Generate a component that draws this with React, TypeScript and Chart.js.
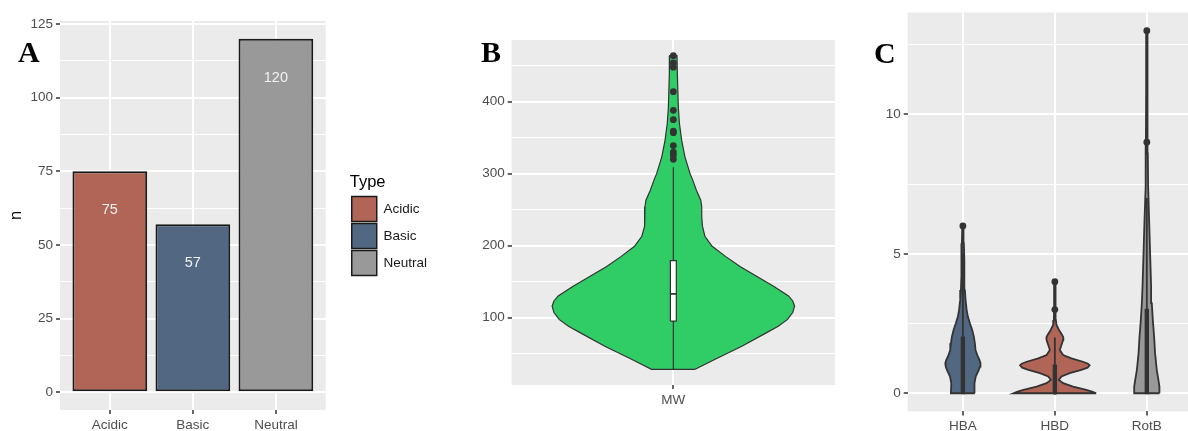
import React, { useEffect, useRef } from 'react';
import { Chart, registerables } from 'chart.js';

Chart.register(...registerables);

const FONT = "'Liberation Sans', Arial, Helvetica, sans-serif";
const PANEL_BG = '#EBEBEB';
const TICK_TEXT = '#4D4D4D';
const INK = '#333333';

// ---------- Panel A: counts by type ----------
const typeLabels = ['Acidic', 'Basic', 'Neutral'];
const typeCounts = [75, 57, 120];
const typeColors = ['#B06557', '#526882', '#999999'];
const countMajorTicks = [0, 25, 50, 75, 100, 125];
const countMinorTicks = [12.5, 37.5, 62.5, 87.5, 112.5];

// ---------- Panel B: MW violin ----------
const mwLabels = ['MW'];
const mwDensityY = [28, 42, 60, 79, 88, 97, 107, 116, 123, 130, 143, 157, 171, 185, 199, 213, 227, 240, 254, 263, 277, 291, 300, 323, 346, 370, 393, 439, 464];
const mwDensityW = [0.18, 0.345, 0.565, 0.77, 0.865, 0.94, 0.985, 1.0, 0.985, 0.95, 0.83, 0.69, 0.55, 0.43, 0.32, 0.26, 0.24, 0.234, 0.234, 0.226, 0.19, 0.16, 0.138, 0.096, 0.069, 0.05, 0.041, 0.033, 0.03];
const mwQuartiles = [95, 133, 179];
const mwWhiskers = [28, 309];
const mwOutliers = [464, 454, 448, 414, 388, 375, 359, 357, 339, 330, 326, 320];
const mwMajorTicks = [100, 200, 300, 400];
const mwMinorTicks = [50, 150, 250, 350, 450];

// ---------- Panel C: HBA / HBD / RotB violins ----------
const descLabels = ['HBA', 'HBD', 'RotB'];
const descColors = ['#526882', '#B06557', '#999999'];
const hbaDensityY = [0, 0.36, 0.6, 0.84, 0.96, 1.08, 1.2, 1.32, 1.55, 1.79, 2.03, 2.27, 2.51, 2.75, 3.0, 3.35, 3.7, 4.2, 4.78, 5.38, 6];
const hbaDensityW = [0.29, 0.28, 0.31, 0.385, 0.415, 0.425, 0.4, 0.36, 0.305, 0.29, 0.265, 0.225, 0.17, 0.12, 0.09, 0.065, 0.048, 0.04, 0.031, 0.024, 0.015];
const hbdDensityY = [0, 0.06, 0.12, 0.24, 0.36, 0.48, 0.6, 0.72, 0.84, 0.92, 1.0, 1.06, 1.13, 1.25, 1.37, 1.55, 1.73, 1.91, 2.0, 2.09, 2.27, 2.45, 2.63, 3, 3.5, 4];
const hbdDensityW = [1.0, 0.9, 0.76, 0.44, 0.2, 0.096, 0.16, 0.36, 0.64, 0.79, 0.84, 0.8, 0.68, 0.4, 0.2, 0.12, 0.16, 0.2, 0.205, 0.176, 0.1, 0.04, 0.024, 0.02, 0.017, 0.015];
const rotbDensityY = [0, 0.24, 0.48, 0.84, 1.43, 2.03, 2.63, 3.23, 3.82, 5.0, 6.2, 7.4, 8.6, 9, 11, 13];
const rotbDensityW = [0.305, 0.305, 0.28, 0.24, 0.2, 0.176, 0.145, 0.12, 0.104, 0.08, 0.056, 0.032, 0.024, 0.022, 0.016, 0.012];
const descQ1 = [0, 0, 0];
const descMedian = [1, 0, 1];
const descQ3 = [2, 1, 3];
const descWhiskerLow = [0, 0, 0];
const descWhiskerHigh = [5, 2, 7];
const hbaOutliers = [6];
const hbdOutliers = [3, 4];
const rotbOutliers = [9, 13];
const descMajorTicks = [0, 5, 10];
const descMinorTicks = [2.5, 7.5, 12.5];

// ---------- helpers ----------
const panelBg = {
  id: 'panelBg',
  beforeDraw(chart: any) {
    const { ctx, chartArea: a } = chart;
    ctx.save();
    ctx.fillStyle = PANEL_BG;
    ctx.fillRect(a.left, a.top, a.right - a.left, a.bottom - a.top);
    ctx.restore();
  },
};

const barLabels = {
  id: 'barLabels',
  afterDatasetsDraw(chart: any) {
    const meta = chart.getDatasetMeta(0);
    const ctx = chart.ctx;
    ctx.save();
    ctx.fillStyle = '#F2F2F2';
    ctx.font = `14.5px ${FONT}`;
    ctx.textAlign = 'center';
    ctx.textBaseline = 'middle';
    meta.data.forEach((bar: any, i: number) => {
      ctx.fillText(String(typeCounts[i]), bar.x, bar.y + 39);
    });
    ctx.restore();
  },
};

function expand(lo: number, hi: number) {
  const d = (hi - lo) * 0.05;
  return [lo - d, hi + d];
}

function yAxis(major: number[], minor: number[], range: number[], width: number) {
  const all = [...major, ...minor].sort((a, b) => a - b);
  const isMajor = (v: number) => major.includes(v);
  return {
    type: 'linear',
    min: range[0],
    max: range[1],
    afterBuildTicks: (s: any) => {
      s.ticks = all.map((v) => ({ value: v }));
    },
    afterFit: (s: any) => {
      s.width = width;
    },
    ticks: {
      autoSkip: false,
      color: TICK_TEXT,
      font: { family: FONT, size: 13.5 },
      padding: 3,
      callback: (v: number) => (isMajor(v) ? String(v) : ''),
    },
    grid: {
      color: '#FFFFFF',
      lineWidth: (c: any) => (c.tick && isMajor(c.tick.value) ? 2 : 1),
      tickColor: (c: any) => (c.tick && isMajor(c.tick.value) ? INK : 'rgba(0,0,0,0)'),
      tickLength: 4,
      tickWidth: 1.5,
    },
    border: { display: false },
  };
}

function catAxis(labels: string[], height: number) {
  return {
    type: 'linear',
    min: 0.4,
    max: labels.length + 0.6,
    offset: false,
    afterBuildTicks: (s: any) => {
      s.ticks = labels.map((_, i) => ({ value: i + 1 }));
    },
    afterFit: (s: any) => {
      s.height = height;
    },
    ticks: {
      autoSkip: false,
      maxRotation: 0,
      color: TICK_TEXT,
      font: { family: FONT, size: 13.5 },
      padding: 3,
      callback: (v: number) => labels[Math.round(v) - 1] ?? '',
    },
    grid: {
      offset: false,
      color: '#FFFFFF',
      lineWidth: 2,
      tickColor: INK,
      tickLength: 4,
      tickWidth: 1.5,
    },
    border: { display: false },
  };
}

function violinPoints(center: number, ys: number[], ws: number[], half: number) {
  const right = ys.map((y, i) => ({ x: center + ws[i] * half, y }));
  const left = ys.map((y, i) => ({ x: center - ws[i] * half, y })).reverse();
  return [...right, ...left, right[0]];
}

function rectPoints(center: number, half: number, lo: number, hi: number) {
  return [
    { x: center - half, y: lo },
    { x: center + half, y: lo },
    { x: center + half, y: hi },
    { x: center - half, y: hi },
    { x: center - half, y: lo },
  ];
}

function violinDatasets(
  center: number,
  ys: number[],
  ws: number[],
  color: string,
  q1: number,
  med: number,
  q3: number,
  wLo: number,
  wHi: number,
  outliers: number[],
  boxHalf: number,
  boxFill: string,
  lw: number,
) {
  const line = { showLine: true, pointRadius: 0, tension: 0, borderColor: INK };
  return [
    {
      data: outliers.map((v) => ({ x: center, y: v })),
      showLine: false,
      pointRadius: 3.4,
      pointBackgroundColor: INK,
      pointBorderWidth: 0,
      order: 0,
    },
    { ...line, data: [{ x: center - boxHalf, y: med }, { x: center + boxHalf, y: med }], borderWidth: lw + 0.5, order: 1 },
    { ...line, data: rectPoints(center, boxHalf, q1, q3), fill: 'shape', backgroundColor: boxFill, borderWidth: lw, order: 2 },
    { ...line, data: [{ x: center, y: wLo }, { x: center, y: q1 }], borderWidth: lw, order: 3 },
    { ...line, data: [{ x: center, y: q3 }, { x: center, y: wHi }], borderWidth: lw, order: 3 },
    { ...line, data: violinPoints(center, ys, ws, 0.45), fill: 'shape', backgroundColor: color, borderWidth: lw, order: 4 },
  ];
}

const common = {
  responsive: false,
  animation: false,
  devicePixelRatio: 1,
  events: [],
};

export default function App() {
  const aRef = useRef<HTMLCanvasElement>(null);
  const bRef = useRef<HTMLCanvasElement>(null);
  const cRef = useRef<HTMLCanvasElement>(null);

  useEffect(() => {
    const charts: Chart[] = [];

    // ----- Panel A -----
    const aY: any = yAxis(countMajorTicks, countMinorTicks, expand(0, Math.max(...typeCounts)), 60);
    aY.title = {
      display: true,
      text: 'n',
      color: '#000000',
      font: { family: FONT, size: 16.5 },
      padding: { top: 7, bottom: 0 },
    };
    charts.push(
      new Chart(aRef.current as HTMLCanvasElement, {
        type: 'bar',
        data: {
          datasets: [
            {
              data: typeCounts.map((v, i) => ({ x: i + 1, y: v })),
              backgroundColor: typeColors,
              borderColor: '#1A1A1A',
              borderWidth: 2,
              borderSkipped: false,
              barPercentage: 0.9,
              categoryPercentage: 1.0,
            } as any,
          ],
        },
        options: {
          ...common,
          layout: { padding: { left: 0, top: 21, right: 23, bottom: 0 } },
          scales: {
            x: catAxis(typeLabels, 21) as any,
            y: aY,
            gap: {
              type: 'linear',
              position: 'right',
              display: false,
              afterFit: (s: any) => {
                s.width = 24;
              },
            } as any,
          },
          plugins: {
            tooltip: { enabled: false },
            legend: {
              display: true,
              position: 'right',
              align: 'center',
              title: {
                display: true,
                text: 'Type',
                position: 'start',
                color: '#000000',
                font: { family: FONT, size: 16.5 },
                padding: { top: 0, bottom: 0 },
              } as any,
              labels: {
                boxWidth: 25,
                boxHeight: 25,
                padding: 2,
                color: '#1A1A1A',
                font: { family: FONT, size: 13.5 },
                generateLabels: () =>
                  typeLabels.map((t, i) => ({
                    text: t,
                    fillStyle: typeColors[i],
                    strokeStyle: '#1A1A1A',
                    lineWidth: 1.5,
                    hidden: false,
                    index: i,
                    fontColor: '#1A1A1A',
                  })),
              },
            },
          },
        } as any,
        plugins: [panelBg, barLabels],
      }),
    );

    // ----- Panel B -----
    const bRange = expand(Math.min(...mwDensityY, mwWhiskers[0]), Math.max(...mwDensityY, ...mwOutliers));
    charts.push(
      new Chart(bRef.current as HTMLCanvasElement, {
        type: 'scatter',
        data: {
          datasets: violinDatasets(
            1,
            mwDensityY,
            mwDensityW,
            '#30CC66',
            mwQuartiles[0],
            mwQuartiles[1],
            mwQuartiles[2],
            mwWhiskers[0],
            mwWhiskers[1],
            mwOutliers,
            0.011,
            '#FFFFFF',
            1.2,
          ) as any,
        },
        options: {
          ...common,
          layout: { padding: { left: 0, top: 40, right: 25, bottom: 25 } },
          scales: {
            x: catAxis(mwLabels, 21) as any,
            y: yAxis(mwMajorTicks, mwMinorTicks, bRange, 51.7) as any,
          },
          plugins: { legend: { display: false }, tooltip: { enabled: false } },
        } as any,
        plugins: [panelBg],
      }),
    );

    // ----- Panel C -----
    const dens = [
      [hbaDensityY, hbaDensityW, hbaOutliers],
      [hbdDensityY, hbdDensityW, hbdOutliers],
      [rotbDensityY, rotbDensityW, rotbOutliers],
    ];
    const cDatasets: any[] = [];
    dens.forEach((d, i) => {
      cDatasets.push(
        ...violinDatasets(
          i + 1,
          d[0],
          d[1],
          descColors[i],
          descQ1[i],
          descMedian[i],
          descQ3[i],
          descWhiskerLow[i],
          descWhiskerHigh[i],
          d[2],
          0.014,
          INK,
          1.8,
        ),
      );
    });
    const cMax = Math.max(...hbaDensityY, ...hbdDensityY, ...rotbDensityY, ...hbaOutliers, ...hbdOutliers, ...rotbOutliers);
    charts.push(
      new Chart(cRef.current as HTMLCanvasElement, {
        type: 'scatter',
        data: { datasets: cDatasets },
        options: {
          ...common,
          layout: { padding: { left: 0, top: 12.5, right: 18, bottom: 0 } },
          scales: {
            x: catAxis(descLabels, 19.6) as any,
            y: yAxis(descMajorTicks, descMinorTicks, expand(0, cMax), 47.7) as any,
          },
          plugins: { legend: { display: false }, tooltip: { enabled: false } },
        } as any,
        plugins: [panelBg],
      }),
    );

    return () => charts.forEach((c) => c.destroy());
  }, []);

  const letter = (left: number, top: number): React.CSSProperties => ({
    position: 'absolute',
    left,
    top,
    fontFamily: "'Liberation Serif', 'Times New Roman', serif",
    fontWeight: 'bold',
    fontSize: 30,
    lineHeight: '30px',
    color: '#000000',
  });

  return (
    <div
      style={{
        position: 'absolute',
        left: 0,
        top: 0,
        width: 1188,
        height: 431,
        overflow: 'hidden',
        background: '#FFFFFF',
      }}
    >
      <canvas ref={aRef} width={460} height={431} style={{ position: 'absolute', left: 0, top: 0 }} />
      <canvas ref={bRef} width={400} height={431} style={{ position: 'absolute', left: 460, top: 0 }} />
      <canvas ref={cRef} width={360} height={431} style={{ position: 'absolute', left: 860, top: 0 }} />
      <div style={letter(18, 37)}>A</div>
      <div style={letter(481, 37)}>B</div>
      <div style={letter(874, 38)}>C</div>
    </div>
  );
}
